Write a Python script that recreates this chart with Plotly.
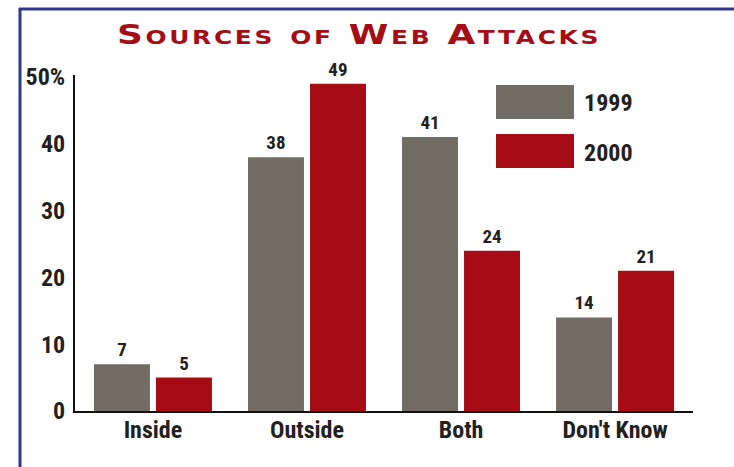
import plotly.graph_objects as go

categories = ["Inside", "Outside", "Both", "Don't Know"]
series_names = ["1999", "2000"]
values_1999 = [7, 38, 41, 14]
values_2000 = [5, 49, 24, 21]
y_tick_vals = [0, 10, 20, 30, 40, 50]
y_tick_text = ["0", "10", "20", "30", "40", "50%"]
title_text = "Sources of Web Attacks"

GRAY = "#716c64"
RED = "#a50c15"
NAVY = "#2b3a8c"
TXT = "#231f20"
FONT = "Liberation Sans Narrow, Arial Narrow, Roboto Condensed, sans-serif"

fig = go.Figure()
for name, vals, col in [(series_names[0], values_1999, GRAY), (series_names[1], values_2000, RED)]:
    fig.add_trace(go.Bar(
        x=categories, y=vals, name=name, marker=dict(color=col, line=dict(width=0)),
        text=[str(v) for v in vals], textposition="outside",
        textfont=dict(family=FONT, size=19, color=TXT, weight="bold"),
        cliponaxis=False, showlegend=False,
    ))

W, H = 734, 467
YMAX = 50.3
L, R, T, B = 75, 41, 411 - YMAX * 6.68, 56
pw, ph = W - L - R, H - T - B

def px(x):
    return (x - L) / pw

def py(y):
    return (H - B - y) / ph

shapes = [
    # frame
    dict(type="line", xref="paper", yref="paper", x0=px(19), x1=px(740), y0=py(9), y1=py(9),
         line=dict(color=NAVY, width=3)),
    dict(type="line", xref="paper", yref="paper", x0=px(20), x1=px(20), y0=py(8), y1=py(470),
         line=dict(color=NAVY, width=3)),
    # legend boxes
    dict(type="rect", xref="paper", yref="paper", x0=px(496), x1=px(574), y0=py(119), y1=py(85),
         fillcolor=GRAY, line=dict(width=0)),
    dict(type="rect", xref="paper", yref="paper", x0=px(496), x1=px(574), y0=py(168), y1=py(134),
         fillcolor=RED, line=dict(width=0)),
]
annotations = [
    dict(xref="paper", yref="paper", x=px(582), y=py(103), text=series_names[0], showarrow=False,
         xanchor="left", yanchor="middle", font=dict(family=FONT, size=24, color=TXT, weight="bold")),
    dict(xref="paper", yref="paper", x=px(582), y=py(153), text=series_names[1], showarrow=False,
         xanchor="left", yanchor="middle", font=dict(family=FONT, size=24, color=TXT, weight="bold")),
]

fig.update_layout(
    width=W, height=H,
    margin=dict(l=L, r=R, t=T, b=B),
    paper_bgcolor="white", plot_bgcolor="white",
    barmode="group", bargap=0.195, bargroupgap=0.097,
    title=dict(text=title_text, x=359 / W, xanchor="center", y=1 - 35 / H, yanchor="middle",
               yref="container",
               font=dict(family="DejaVu Sans, sans-serif", size=27, color=RED, weight="bold",
                         variant="small-caps")),
    shapes=shapes, annotations=annotations,
    xaxis=dict(range=[-0.506, 3.506], showline=True, linecolor="#111", linewidth=2,
               showgrid=False, zeroline=False, ticks="", ticklabelstandoff=-4,
               tickfont=dict(family=FONT, size=24, color=TXT, weight="bold")),
    yaxis=dict(range=[0, YMAX], tickvals=y_tick_vals, ticktext=y_tick_text, showline=True,
               linecolor="#111", linewidth=2, showgrid=False, zeroline=False, ticks="",
               ticklabelstandoff=3,
               tickfont=dict(family=FONT, size=24, color=TXT, weight="bold")),
)

post = """
var t = document.querySelector('.gtitle');
if (t) {
  t.style.letterSpacing = '2px';
  t.style.transformBox = 'fill-box';
  t.style.transformOrigin = 'center';
  t.style.transform = 'scaleX(1.33)';
}
"""
fig.write_html("out.html", post_script=post)
